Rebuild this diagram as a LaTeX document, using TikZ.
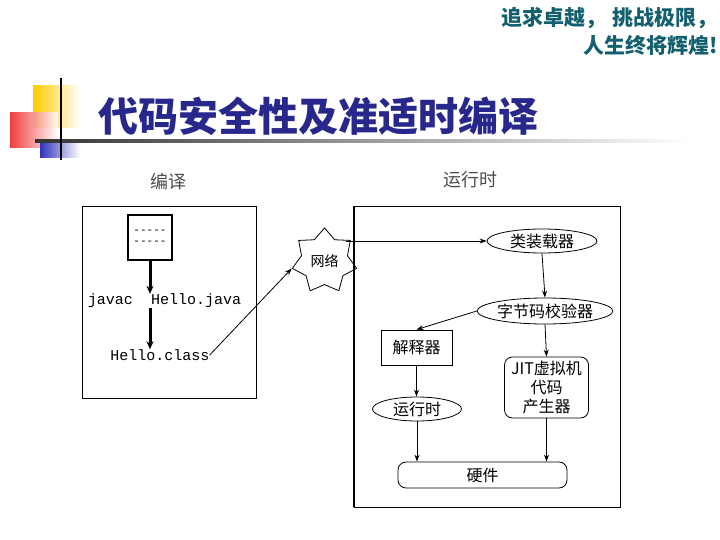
\documentclass[tikz,border=0pt]{standalone}
\usepackage{fontspec}
\newfontfamily\cjk{Noto Sans CJK SC}
\setmonofont{Liberation Mono}
\usetikzlibrary{shapes.geometric, arrows.meta, positioning, calc}

\definecolor{slogan}{RGB}{20,95,110}
\definecolor{titleblue}{RGB}{40,40,140}
\definecolor{sqyellow}{RGB}{255,204,0}
\definecolor{sqred}{RGB}{240,40,40}
\definecolor{sqblue}{RGB}{50,50,190}

\begin{document}
\begin{tikzpicture}[
        x=1pt, y=-1pt,
        arr/.style={-{Stealth[length=7pt,width=5pt]}, line width=0.8pt},
        thickarr/.style={-{Stealth[length=8pt,width=7pt]}, line width=3pt},
        oval/.style={draw, ellipse, thick, inner sep=0pt, font=\cjk\fontsize{16}{18}\selectfont},
        box/.style={draw, rectangle, thick, inner sep=0pt, align=center, font=\cjk\fontsize{16}{18}\selectfont},
        roundbox/.style={draw, rectangle, rounded corners=8pt, thick, inner sep=0pt, align=center, font=\cjk\fontsize{16}{19}\selectfont},
        code/.style={inner sep=0pt, font=\ttfamily\fontsize{15}{17}\selectfont},
        caption/.style={inner sep=0pt, text=black!70, font=\cjk\fontsize{18}{20}\selectfont},
        motto/.style={anchor=east, inner sep=0pt, text=slogan, font=\cjk\bfseries\fontsize{21}{23}\selectfont}
    ]
        \useasboundingbox (0,0) rectangle (720,540);

        % Slogan
        \node[motto] (slogan1) at (718,18) {追求卓越，\hspace{6pt}挑战极限，};
        \node[motto] (slogan2) at (718,45) {人生终将辉煌!};

        % Title decoration
        \shade[left color=sqyellow, right color=white] (33,86) rectangle (80,128);
        \shade[left color=sqred, right color=white, opacity=0.9] (10,113) rectangle (58,148);
        \shade[left color=sqblue, right color=white] (40,140) rectangle (80,158);
        \shade[left color=black!80, right color=white] (35,140) rectangle (690,142.5);
        \draw[line width=1.2pt] (61,78) -- (61,160);
        \node[anchor=west, inner sep=0pt, text=titleblue, font=\cjk\bfseries\fontsize{40}{42}\selectfont] (title) at (98,116) {代码安全性及准适时编译};

        % Compile side
        \node[caption] (compile) at (168,182) {编译};
        \draw[thick] (82,206) rectangle (256,398);
        \node[draw, line width=1.4pt, minimum width=44pt, minimum height=45pt, inner sep=0pt, align=center,
              font=\ttfamily\fontsize{11}{11}\selectfont] (src) at (150,237.5) {-----\\-----};
        \node[code, anchor=west] (hj) at (151,301) {Hello.java};
        \node[code, anchor=east] (javac) at (133,301) {javac};
        \node[code] (hc) at (160,355) {Hello.class};
        \draw[thickarr] (src.south) -- (src.south |- hj.north);
        \draw[thickarr] (src.south |- hj.south) -- (src.south |- hc.north);

        % Network
        \node[draw, star, star points=7, star point ratio=1.4, minimum size=66pt, inner sep=0pt, thick,
              font=\cjk\fontsize{14}{16}\selectfont] (net) at (324.5,261) {网络};
        \draw[arr] (hc.east) -- (net.outer point 3);

        % Runtime side
        \node[caption] (runtime) at (470,180) {运行时};
        \draw[thick] (354,206) rectangle (620,507);
        \draw[line width=2.4pt] (354,206) -- (354,507);

        \node[oval, minimum width=110pt, minimum height=24pt] (loader) at (542,241) {类装载器};
        \node[oval, minimum width=134pt, minimum height=26pt] (verifier) at (545,311) {字节码校验器};
        \node[box, minimum width=71pt, minimum height=35pt] (interp) at (416.5,347.5) {解释器};
        \node[roundbox, minimum width=84pt, minimum height=61pt] (jit) at (546.5,387.5) {JIT虚拟机\\代码\\产生器};
        \node[oval, minimum width=89pt, minimum height=24pt] (run) at (417,409) {运行时};
        \node[roundbox, minimum width=169pt, minimum height=26pt] (hw) at (482.5,475) {硬件};

        \draw[arr] (net.north east |- loader.west) -- (loader.west);
        \draw[arr] (loader.south) -- (verifier.north);
        \draw[arr] (verifier.west) -- (interp.north);
        \draw[arr] (verifier.south) -- (jit.north);
        \draw[arr] (interp.south) -- (interp.south |- run.north);
        \draw[arr] (run.south) -- (run.south |- hw.north);
        \draw[arr] (jit.south) -- (jit.south |- hw.north);

\end{tikzpicture}
\end{document}
